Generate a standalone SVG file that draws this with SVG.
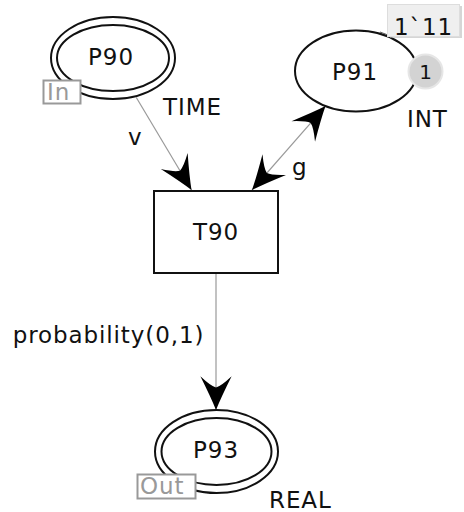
<svg xmlns="http://www.w3.org/2000/svg" width="464" height="512" viewBox="0 0 464 512">
  <style>
    text { font-family: "DejaVu Sans", Verdana, sans-serif; font-size: 23px; letter-spacing: 0.9px; fill: #111; }
    .place { fill: #fff; stroke: #111; stroke-width: 2; }
    .trans { fill: #fff; stroke: #111; stroke-width: 2; }
    .arc { fill: none; stroke: #999; stroke-width: 1.2; }
    .port { fill: #fff; stroke: #999; stroke-width: 2; }
    .porttxt { fill: #999; }
    .c { text-anchor: middle; }
  </style>
  <defs>
    <marker id="head" markerUnits="userSpaceOnUse" markerWidth="40" markerHeight="40" viewBox="-30 -15 32 30" refX="0" refY="0" orient="auto">
      <path d="M0,0 Q-10,-4 -27,-12.5 Q-19,-4 -18,0 Q-19,4 -27,12.5 Q-10,4 0,0 Z" fill="#000"/>
    </marker>
    <marker id="tail" markerUnits="userSpaceOnUse" markerWidth="40" markerHeight="40" viewBox="-30 -15 32 30" refX="0" refY="0" orient="auto-start-reverse">
      <path d="M0,0 Q-10,-4 -27,-12.5 Q-19,-4 -18,0 Q-19,4 -27,12.5 Q-10,4 0,0 Z" fill="#000"/>
    </marker>
  </defs>

  <!-- arcs -->
  <g id="arcs">
    <line class="arc" x1="136.3" y1="97.5" x2="191.5" y2="190" marker-end="url(#head)"/>
    <line class="arc" x1="325.5" y1="106.1" x2="252" y2="190" marker-start="url(#tail)" marker-end="url(#head)"/>
    <line class="arc" x1="216" y1="273" x2="216" y2="410" marker-end="url(#head)"/>
    <text x="128" y="145">v</text>
    <text x="292" y="175">g</text>
    <text x="12.7" y="343">probability(0,1)</text>
  </g>

  <!-- input port place -->
  <g id="P90">
    <ellipse class="place" cx="113" cy="58" rx="62" ry="41"/>
    <ellipse class="place" cx="113" cy="58" rx="56" ry="33"/>
    <text class="c" x="111" y="65">P90</text>
    <rect class="port" x="43.5" y="80.5" width="37" height="23"/>
    <text class="porttxt" x="47" y="100">In</text>
    <text x="163" y="115">TIME</text>
  </g>

  <!-- integer place with current marking -->
  <g id="P91">
    <ellipse class="place" cx="356" cy="71" rx="61" ry="40.5"/>
    <text class="c" x="355" y="80">P91</text>
    <line x1="380" y1="32" x2="388" y2="35" stroke="#555" stroke-width="1"/>
    <rect x="390" y="6" width="72" height="32" fill="#bbb" opacity="0.6"/>
    <rect x="387.5" y="4.5" width="72" height="32" fill="#efefef" stroke="#ddd" stroke-width="1"/>
    <text x="394" y="35">1`11</text>
    <circle cx="425.5" cy="71.5" r="17" fill="#d3d3d3" stroke="#e6e6e6" stroke-width="2"/>
    <text class="c" x="425.5" y="79" style="font-size:20px;letter-spacing:0">1</text>
    <text x="407" y="127">INT</text>
  </g>

  <!-- transition -->
  <g id="T90">
    <rect class="trans" x="154" y="191" width="124" height="82"/>
    <text class="c" x="216" y="240">T90</text>
  </g>

  <!-- output port place -->
  <g id="P93">
    <ellipse class="place" cx="216.5" cy="451.5" rx="61.5" ry="41.5"/>
    <ellipse class="place" cx="216.5" cy="451.5" rx="55" ry="33.5"/>
    <text class="c" x="216" y="458">P93</text>
    <rect class="port" x="137.5" y="474.5" width="58" height="24"/>
    <text class="porttxt" x="140" y="494">Out</text>
    <text x="269" y="508">REAL</text>
  </g>
</svg>
